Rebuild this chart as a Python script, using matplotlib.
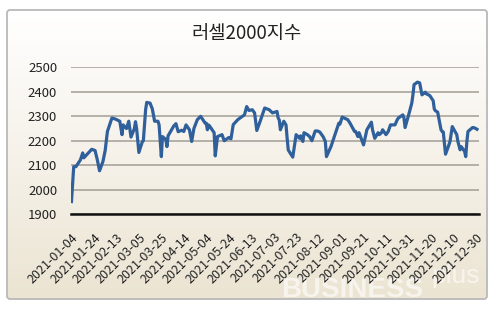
import datetime as dt
import numpy as np
import matplotlib
matplotlib.use('Agg')
from matplotlib import pyplot as plt
from matplotlib import transforms
from matplotlib.colors import LinearSegmentedColormap
from matplotlib.patches import FancyBboxPatch

plt.rcParams['font.family'] = ['Noto Sans CJK KR', 'DejaVu Sans']

title = '러셀2000지수'

# one point per visible turn of the line
dates = ['2021-01-04', '2021-01-06', '2021-01-08', '2021-01-12', '2021-01-14',
         '2021-01-15', '2021-01-19', '2021-01-22', '2021-01-25', '2021-01-27',
         '2021-01-29', '2021-02-01', '2021-02-03', '2021-02-05', '2021-02-09',
         '2021-02-12', '2021-02-16', '2021-02-18', '2021-02-19', '2021-02-22',
         '2021-02-24', '2021-02-26', '2021-03-01', '2021-03-02', '2021-03-03',
         '2021-03-05', '2021-03-08', '2021-03-09', '2021-03-11', '2021-03-12',
         '2021-03-15', '2021-03-17', '2021-03-19', '2021-03-22', '2021-03-23',
         '2021-03-25', '2021-03-26', '2021-03-29', '2021-03-30', '2021-03-31',
         '2021-04-05', '2021-04-07', '2021-04-09', '2021-04-12', '2021-04-14',
         '2021-04-16', '2021-04-19', '2021-04-21', '2021-04-23', '2021-04-26',
         '2021-04-29', '2021-05-03', '2021-05-04', '2021-05-05', '2021-05-06',
         '2021-05-07', '2021-05-11', '2021-05-12', '2021-05-14', '2021-05-18',
         '2021-05-20', '2021-05-24', '2021-05-26', '2021-05-28', '2021-06-01',
         '2021-06-03', '2021-06-07', '2021-06-09', '2021-06-11', '2021-06-14',
         '2021-06-16', '2021-06-18', '2021-06-21', '2021-06-25', '2021-06-29',
         '2021-07-02', '2021-07-06', '2021-07-07', '2021-07-08', '2021-07-09',
         '2021-07-12', '2021-07-14', '2021-07-15', '2021-07-16', '2021-07-20',
         '2021-07-23', '2021-07-26', '2021-07-27', '2021-07-29', '2021-07-30',
         '2021-08-02', '2021-08-04', '2021-08-06', '2021-08-09', '2021-08-11',
         '2021-08-13', '2021-08-16', '2021-08-18', '2021-08-19', '2021-08-23',
         '2021-08-26', '2021-08-30', '2021-08-31', '2021-09-02', '2021-09-07',
         '2021-09-09', '2021-09-13', '2021-09-14', '2021-09-16', '2021-09-17',
         '2021-09-21', '2021-09-24', '2021-09-28', '2021-09-29', '2021-10-01',
         '2021-10-04', '2021-10-05', '2021-10-07', '2021-10-08', '2021-10-11',
         '2021-10-13', '2021-10-15', '2021-10-19', '2021-10-21', '2021-10-22',
         '2021-10-26', '2021-10-27', '2021-10-28', '2021-11-01', '2021-11-03',
         '2021-11-04', '2021-11-05', '2021-11-08', '2021-11-10', '2021-11-12',
         '2021-11-15', '2021-11-16', '2021-11-19', '2021-11-22', '2021-11-23',
         '2021-11-24', '2021-11-26', '2021-11-29', '2021-11-30', '2021-12-01',
         '2021-12-03', '2021-12-06', '2021-12-07', '2021-12-09', '2021-12-13',
         '2021-12-14', '2021-12-16', '2021-12-17', '2021-12-20', '2021-12-21',
         '2021-12-22', '2021-12-23', '2021-12-27', '2021-12-28', '2021-12-30',
         '2021-12-31']
values = [1951, 2094, 2094, 2122, 2150,
          2130, 2150, 2165, 2160, 2122,
          2077, 2115, 2160, 2238, 2293,
          2289, 2280, 2225, 2265, 2250,
          2280, 2215, 2250, 2278, 2250,
          2152, 2195, 2200, 2327, 2357,
          2354, 2330, 2280, 2280, 2265,
          2135, 2217, 2205, 2176, 2220,
          2260, 2270, 2237, 2243, 2238,
          2265, 2245, 2197, 2250, 2286,
          2300, 2272, 2272, 2245, 2265,
          2260, 2233, 2138, 2217, 2225,
          2200, 2213, 2208, 2266, 2286,
          2293, 2306, 2340, 2324, 2327,
          2314, 2242, 2280, 2334, 2327,
          2314, 2320, 2293, 2285, 2245,
          2280, 2265, 2210, 2162, 2133,
          2225, 2210, 2220, 2197, 2233,
          2225, 2217, 2200, 2240, 2240,
          2236, 2217, 2197, 2135, 2176,
          2217, 2272, 2268, 2297, 2286,
          2272, 2238, 2238, 2217, 2233,
          2183, 2245, 2276, 2245, 2210,
          2233, 2225, 2233, 2245, 2225,
          2238, 2265, 2265, 2286, 2293,
          2306, 2293, 2254, 2320, 2355,
          2389, 2430, 2440, 2437, 2388,
          2399, 2392, 2385, 2364, 2330,
          2323, 2317, 2245, 2238, 2236,
          2145, 2183, 2197, 2258, 2225,
          2197, 2163, 2176, 2156, 2135,
          2197, 2238, 2254, 2254, 2250,
          2247]

y_ticks = [1900, 2000, 2100, 2200, 2300, 2400, 2500]
x_tick_labels = ['2021-01-04', '2021-01-24', '2021-02-13', '2021-03-05',
                 '2021-03-25', '2021-04-14', '2021-05-04', '2021-05-24',
                 '2021-06-13', '2021-07-03', '2021-07-23', '2021-08-12',
                 '2021-09-01', '2021-09-21', '2021-10-11', '2021-10-31',
                 '2021-11-20', '2021-12-10', '2021-12-30']

W, H = 496, 311
fig = plt.figure(figsize=(W / 100, H / 100), dpi=100)

# panel background: rounded box, white at the top fading to beige
bg = fig.add_axes([0, 0, 1, 1])
bg.set_xlim(0, W)
bg.set_ylim(H, 0)
bg.axis('off')
box = FancyBboxPatch((7, 10), 480, 289, boxstyle='round,pad=0,rounding_size=3',
                     facecolor='none', edgecolor='#b9b9b9', linewidth=1.3, zorder=3)
bg.add_patch(box)
cmap = LinearSegmentedColormap.from_list('panel', ['#ffffff', '#f6f2ea', '#ebe4d2'])
grad = bg.imshow(np.linspace(0, 1, 256).reshape(-1, 1), cmap=cmap, aspect='auto',
                 extent=(7, 487, 299, 10), zorder=1)
grad.set_clip_path(box)

fig.text(247 / W, 1 - 34 / H, title, ha='center', va='center', fontsize=13.5, color='#222222')

# the BUSINESS plus mark in the lower right corner
mark = bg.text(281, 297, 'BUSINESS', ha='left', va='baseline', fontsize=20,
               fontweight='bold', color='white', alpha=0.6, family=['Liberation Sans'],
               zorder=2)
mark.set_clip_path(box)
bg.text(431, 283, 'plus', ha='left', va='baseline', fontsize=19,
        color='white', alpha=0.6, family=['Liberation Sans'], zorder=2)

ax = fig.add_axes([71 / W, 1 - 214 / H, 408 / W, 146.5 / H])
ax.set_facecolor('none')

x = [dt.datetime.strptime(d, '%Y-%m-%d') for d in dates]
ax.plot(x, values, color='#30609b', linewidth=2.3, solid_joinstyle='round', zorder=3)

ax.set_ylim(1900, 2500)
ax.set_yticks(y_ticks)
ax.yaxis.grid(True, color='#a9a49b', linewidth=1.2)
ax.set_axisbelow(True)

x0 = dt.datetime(2021, 1, 4) - dt.timedelta(hours=10)
x1 = dt.datetime(2021, 12, 31) + dt.timedelta(days=1.8)
ax.set_xlim(x0, x1)
ax.set_xticks([dt.datetime.strptime(d, '%Y-%m-%d') for d in x_tick_labels])
ax.set_xticklabels(x_tick_labels, rotation=45, ha='right', rotation_mode='anchor')
shift = transforms.ScaledTranslation(-0.16, -0.14, fig.dpi_scale_trans)
for lab in ax.get_xticklabels():
    lab.set_transform(lab.get_transform() + shift)

for s in ['top', 'right', 'left']:
    ax.spines[s].set_visible(False)
ax.spines['bottom'].set_color('#111111')
ax.spines['bottom'].set_linewidth(1.8)

ax.tick_params(axis='y', length=0, pad=10, labelsize=9.5, labelcolor='#222222')
ax.tick_params(axis='x', length=0, pad=12, labelsize=9, labelcolor='#222222')

fig.savefig('out.png', dpi=100)
